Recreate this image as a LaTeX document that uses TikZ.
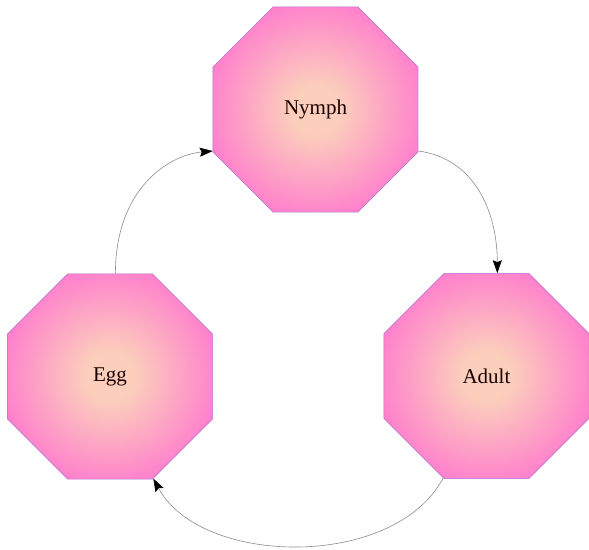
\documentclass[tikz,border=0pt]{standalone}
\usepackage{fontspec}
\setmainfont{Liberation Serif}
\usetikzlibrary{shapes.geometric,arrows.meta}
\definecolor{pinkout}{RGB}{255,100,210}
\definecolor{peachin}{RGB}{252,206,188}
\definecolor{octborder}{RGB}{176,120,210}
\definecolor{linegray}{RGB}{140,140,140}
\pgfdeclareradialshading{octshade}{\pgfpoint{0bp}{0bp}}{%
  color(0bp)=(peachin);
  color(6bp)=(peachin);
  color(34bp)=(pinkout);
  color(50bp)=(pinkout)}
\begin{document}
\begin{tikzpicture}[x=1pt,y=1pt,
  stage/.style={regular polygon, regular polygon sides=8, minimum size=222pt,
    inner sep=0pt, draw=octborder, line width=0.5pt,
    shading=octshade, text=black!90!red,
    font=\fontsize{21}{24}\selectfont},
  link/.style={draw=linegray, line width=0.6pt,
    -{Stealth[length=13pt,width=9pt,inset=2pt,black]}}]
\fill[white] (0,0) rectangle (589,-549);
\useasboundingbox (0,0) rectangle (589,-549);
\node[stage] (nymph) at (315.5,-109.5) {Nymph};
\node[stage] (egg) at (110,-376.5) {Egg};
\node[stage] (adult) at (486.5,-376) {Adult};
\draw[link] (egg.87) .. controls +(0,84) and +(-45,-4) .. (nymph.202.5);
\draw[link] (nymph.-22.5) .. controls +(55,-7) and +(0,63) .. (adult.84);
\draw[link] (adult.247.5) .. controls +(-49,-92) and +(47.5,-88) .. (egg.-67.5);
\end{tikzpicture}
\end{document}
